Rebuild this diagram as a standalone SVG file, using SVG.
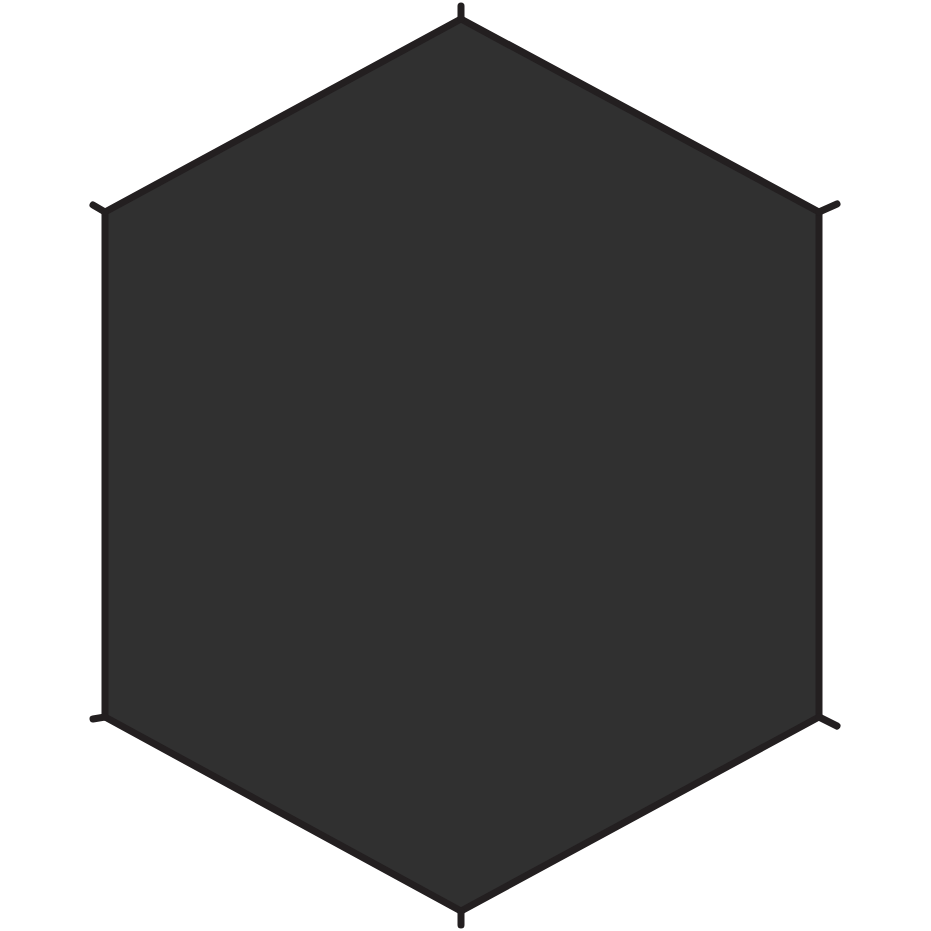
<svg xmlns="http://www.w3.org/2000/svg" width="931" height="931" viewBox="0 0 931 931">
<style>
.body{fill:#303030;stroke:#231f20;stroke-width:7;stroke-linejoin:miter}
.tab{stroke:#231f20;stroke-width:7;stroke-linecap:round;fill:none}
</style>
<rect width="931" height="931" fill="#ffffff"/>
<g id="footprint">
<polygon class="body" points="461,19 819,212 819,717 461,911 105,717 105,212"/>
</g>
<g id="tabs">
<line class="tab" x1="461" y1="19" x2="461" y2="6"/>
<line class="tab" x1="819" y1="212" x2="837" y2="204"/>
<line class="tab" x1="819" y1="717" x2="837" y2="726"/>
<line class="tab" x1="461" y1="911" x2="461" y2="925"/>
<line class="tab" x1="105" y1="717" x2="93" y2="719"/>
<line class="tab" x1="105" y1="212" x2="93" y2="205"/>
</g>
</svg>
